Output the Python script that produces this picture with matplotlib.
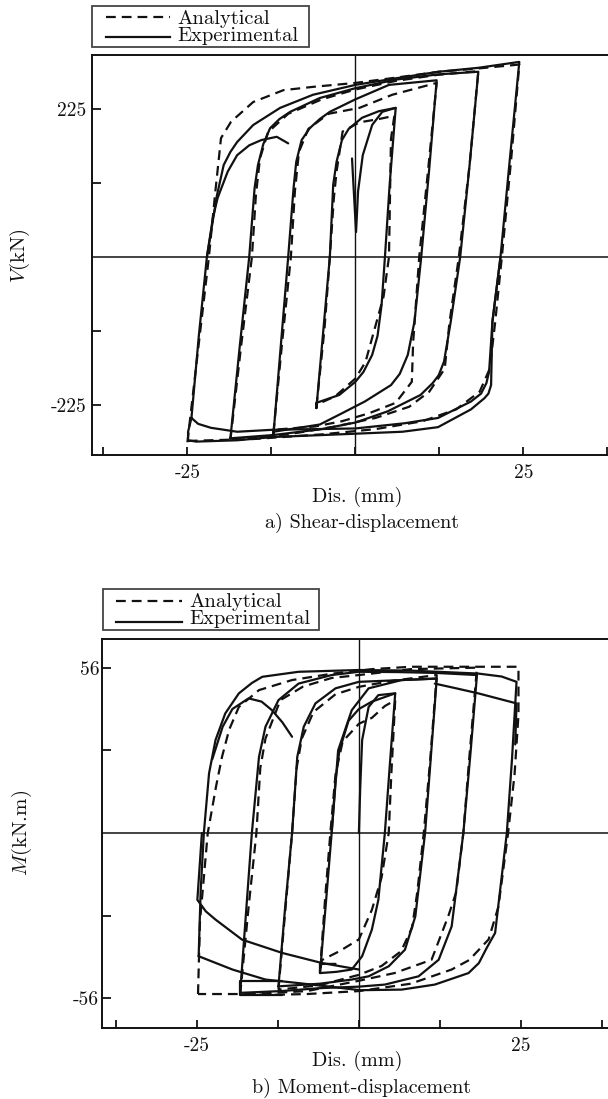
import matplotlib
matplotlib.use("Agg")
import matplotlib.pyplot as plt
from matplotlib.patches import Rectangle
from matplotlib.lines import Line2D

plt.rcParams['font.family'] = ['cmr10', 'DejaVu Serif']
plt.rcParams['mathtext.fontset'] = 'cm'
plt.rcParams['axes.unicode_minus'] = False

# ---------------- data: shear (kN) vs displacement (mm) ----------------
shear_exp_x0 = [-0.5, 0.1, 0.4, 1.1, 2.5, 4.0, 6.0]
shear_exp_v0 = [150, 38, 100, 155, 201, 221, 227]
shear_exp_x1 = [-5.8, -4.8, -3.8, -3.3, -2.8, -2.0, -1.0, 1.0, 3.5, 6.0, 5.1, 4.4, 3.9, 3.3, 2.5, 1.2, 0.0, -2.4, -5.8, -5.8]
shear_exp_v1 = [-230, -115, 0, 110, 145, 178, 195, 212, 222, 227, 110, 0, -73, -120, -149, -175, -190, -210, -222, -230]
shear_exp_x2 = [-12.2, -11.1, -10.0, -9.2, -8.8, -8.0, -6.8, -5.3, -3.8, 0.0, 5.0, 12.1, 11.0, 9.8, 8.8, 7.8, 6.6, 5.3, 1.4, -2.4, -5.3, -12.2, -12.2]
shear_exp_v2 = [-271, -135, 0, 105, 145, 178, 196, 210, 221, 240, 262, 269, 135, 0, -98, -149, -178, -195, -220, -240, -255, -266, -271]
shear_exp_x3 = [-18.6, -17.2, -15.8, -15.0, -14.5, -13.7, -12.7, -11.3, -9.7, -5.3, 0.0, 6.0, 12.3, 18.3,
                17.0, 15.6, 14.2, 13.2, 12.4, 11.5, 9.7, 4.8, 0.0, -5.0, -12.2, -18.6]
shear_exp_v3 = [-276, -135, 0, 105, 140, 172, 196, 210, 221, 242, 257, 270, 278, 282,
                140, 0, -98, -159, -180, -192, -210, -235, -252, -262, -271, -276]
shear_exp_x4 = [-24.4, -23.3, -22.1, -21.3, -20.6, -19.6, -18.6, -17.6, -15.2, -11.2, -6.3, 0.0, 6.0, 12.4, 18.3, 24.4,
                23.0, 21.6, 20.4, 19.9, 19.5, 18.7, 17.2, 12.3, 7.4, 0.0, -12.3, -17.6, -21.5, -23.4, -24.4]
shear_exp_v4 = [-245, -120, 0, 50, 94, 140, 160, 175, 201, 227, 247, 262, 272, 282, 288, 297,
                150, 0, -98, -175, -192, -208, -220, -245, -253, -261, -263, -266, -260, -254, -245]
shear_exp_x5 = [21.6, 20.4, 20.2, 19.8, 19.2, 17.2, 12.3, 7.0, -2.4, -12.2, -17.6, -23.7, -24.9, -24.9, -24.4]
shear_exp_v5 = [0, -98, -195, -208, -215, -232, -259, -266, -270, -274, -279, -281, -279, -266, -245]
shear_exp_x6 = [-22.1, -21.2, -20.5, -19.0, -17.6, -15.8, -14.0, -11.7, -10.0]
shear_exp_v6 = [0, 60, 90, 130, 155, 170, 178, 183, 173]

shear_ana_x1 = [-5.8, -4.6, -3.8, -3.2, -2.8, -1.9, 0.6, 3.5, 5.8, 5.3, 5.0, 4.2, 1.5, 0.0, -3.0, -5.8, -5.8]
shear_ana_v1 = [-228, -110, 0, 90, 130, 191, 205, 210, 215, 180, 0, -60, -160, -185, -212, -225, -228]
shear_ana_x2 = [-12.2, -10.9, -9.6, -9.0, -8.4, -7.0, -4.0, 0.6, 5.5, 12.1, 10.8, 9.5, 8.6, 8.4, 6.0, 2.0, -2.0, -6.0, -12.2, -12.2]
shear_ana_v2 = [-268, -130, 0, 100, 160, 195, 218, 227, 247, 265, 130, 0, -130, -190, -222, -238, -250, -258, -263, -268]
shear_ana_x3 = [-18.6, -17.0, -15.4, -14.8, -14.2, -13.0, -10.0, -5.0, 0.0, 6.0, 12.0, 18.3, 17.0, 15.4, 14.0, 13.3, 11.0, 8.0, 3.0, -3.0, -10.0, -18.6]
shear_ana_v3 = [-278, -135, 0, 95, 150, 190, 218, 240, 255, 268, 277, 283, 140, 0, -100, -170, -205, -228, -245, -258, -270, -278]
shear_ana_x4 = [-25.0, -23.4, -21.8, -20.9, -20.0, -18.5, -15.2, -10.7, -6.3, 0.0, 6.0, 12.4, 18.3, 24.4,
                23.2, 21.8, 20.8, 20.0, 18.5, 15.0, 10.0, 3.0, -5.0, -15.0, -25.0, -25.0]
shear_ana_v4 = [-282, -140, 0, 94, 181, 206, 236, 254, 259, 265, 273, 282, 287, 293,
                150, 0, -100, -170, -205, -232, -250, -262, -270, -277, -280, -282]

# ---------------- data: moment (kN.m) vs displacement (mm) ----------------
moment_exp_x0 = [0.0, 0.2, 0.5, 1.5, 3.0, 5.6]
moment_exp_v0 = [0, 15, 31.5, 42.7, 46.7, 47.3]
moment_exp_x1 = [-6.0, -5.1, -4.2, -3.6, -3.0, -1.6, 0.0, 2.0, 5.6, 4.8, 4.0, 3.0, 2.0, 0.5, -1.1, -3.5, -6.0, -6.0, -3.6]
moment_exp_v1 = [-47.4, -24, 0, 18, 28, 38, 42, 44.5, 47.3, 24, 0, -22.6, -32.7, -41.7, -46.2, -47.0, -47.4, -44.3, -44.3]
moment_exp_x1b = [-4.2, -3.2, -1.1, 1.5, 6.6, 12.0]
moment_exp_v1b = [0, 28, 41.6, 49, 51.8, 52.3]
moment_exp_x2 = [-12.4, -11.4, -10.3, -9.5, -8.5, -6.7, -3.6, 0.0, 6.6, 12.0, 11.1, 10.2, 8.7, 7.1, 4.6, 1.5, -1.1, -6.0, -12.4, -12.4]
moment_exp_v2 = [-51.9, -26, 0, 25.8, 36, 43.9, 49, 51.2, 51.8, 52.3, 26, 0, -28.2, -39.5, -45.1, -48.5, -49.6, -51.0, -51.9, -51.9]
moment_exp_x3 = [-18.3, -17.4, -16.5, -15.4, -14.4, -12.4, -9.3, -4.2, 0.0, 6.0, 12.0, 18.2, 17.2, 16.1, 14.3, 12.3, 9.2, 4.0, 0.0, -6.0, -12.0, -18.3]
moment_exp_v3 = [-54.1, -27, 0, 25.8, 36, 45, 50.6, 53.5, 54.6, 54.5, 54.2, 53.5, 27, 0, -31.6, -42.9, -48.5, -51.3, -52.0, -52.5, -53.5, -54.1]
moment_exp_x3b = [-11.9, -18.3, -18.3, -11.9]
moment_exp_v3b = [-54.7, -54.7, -50.2, -50.2]
moment_exp_x4 = [-24.7, -24.4, -23.9, -23.1, -22.1, -20.6, -18.5, -16.5, -14.9, -9.3, 0.0, 8.0, 18.4, 22.0, 24.3,
                 23.6, 22.8, 21.0, 19.7, 18.5, 16.9, 11.7, 6.6, 0.2, -9.3, -14.4, -19.5, -24.7]
moment_exp_v4 = [-41.7, -20, 0, 20.2, 31.5, 40.5, 47.3, 50.8, 52.9, 54.6, 55.2, 55.0, 54.0, 53.0, 51.2,
                 25, 0, -33.8, -38.9, -44.0, -47.4, -51.3, -53.0, -53.2, -50.8, -49.6, -46.2, -41.7]
moment_exp_x5 = [-24.2, -24.9, -23.6, -22.1, -18.0, -11.8, -5.7, 0.0]
moment_exp_v5 = [0, -22.6, -26.5, -29.3, -36.1, -40.6, -44.0, -46.2]
moment_exp_x6 = [-22.6, -21.0, -19.5, -17.0, -15.0, -13.4, -11.8, -10.3]
moment_exp_v6 = [25, 36, 42, 45.6, 44.5, 41.6, 37.5, 32.6]
moment_exp_x7 = [11.7, 15.0, 18.4, 21.0, 24.3, 24.1]
moment_exp_v7 = [50.6, 49.0, 47.3, 45.8, 43.9, 30]

moment_ana_x1 = [-6.0, -5.2, -4.4, -3.6, -2.5, 0.0, 2.0, 4.0, 5.6, 5.0, 4.6, 3.5, 2.0, 0.0, -3.0, -5.7, -6.0]
moment_ana_v1 = [-47, -22, 0, 20, 31, 37, 39, 43, 45, 20, 0, -15, -26, -36, -40, -43, -47]
moment_ana_x2 = [-12.4, -11.3, -10.3, -9.6, -8.8, -7.0, -3.6, 0.0, 5.0, 12.0, 11.0, 10.0, 9.0, 8.2, 6.5, 3.5, 0.0, -6.0, -12.4]
moment_ana_v2 = [-53, -25, 0, 22, 32, 41, 47, 49.5, 51.5, 53.5, 25, 0, -20, -32, -40, -45, -48, -51.5, -53]
moment_ana_x3 = [-18.3, -17.0, -15.8, -15.2, -14.4, -12.1, -8.6, -4.2, 0.0, 8.0, 18.2,
                 17.0, 16.1, 15.0, 13.8, 11.2, 5.5, 0.0, -8.0, -18.3]
moment_ana_v3 = [-54.7, -25, 0, 22, 32, 45, 49.6, 52.5, 53.5, 55.5, 56.0,
                 25, 0, -20, -28, -42.9, -47.4, -50, -53.5, -54.7]
moment_ana_x4 = [-24.8, -24.5, -23.3, -22.0, -21.1, -20.0, -18.5, -15.4, -10.3, -4.0, 2.0, 8.0, 16.0, 24.6,
                 24.6, 24.0, 23.0, 21.5, 20.0, 17.0, 14.3, 8.0, 0.0, -8.0, -14.0, -18.0, -24.8, -24.8]
moment_ana_v4 = [-54.5, -30.0, 0.0, 16, 25.8, 35, 42.7, 48.4, 51.8, 54, 55.5, 56.3, 56.3, 56.3,
                 40, 20, 0, -25, -36, -43, -46.2, -51, -53.5, -54.5, -54.8, -54.5, -54.5, -54.5]

# ---------------- axis / tick labels ----------------
x_ticks = [-37.5, -25, -12.5, 0, 12.5, 25, 37.5]
x_tick_labels = ['', '-25', '', '', '', '25', '']
shear_ticks = [-225, -112.5, 112.5, 225]
shear_tick_labels = ['-225', '', '', '225']
moment_ticks = [-56, -28, 28, 56]
moment_tick_labels = ['-56', '', '', '56']

W, H = 608, 1099
fig = plt.figure(figsize=(W / 100, H / 100), dpi=100)
INK = '#111111'
LW = 1.6
DASH = (0, (4.4, 2.7))


def fx(px):
    return px / W


def fy(py):
    return 1 - py / H


def style_axes(ax, yticks, ylabels, ypad):
    for s in ['top', 'left', 'bottom']:
        ax.spines[s].set_linewidth(1.4)
        ax.spines[s].set_color(INK)
    ax.spines['right'].set_visible(False)
    ax.set_xticks(x_ticks)
    ax.set_xticklabels(x_tick_labels)
    ax.set_yticks(yticks)
    ax.set_yticklabels(ylabels)
    ax.tick_params(axis='x', direction='in', length=6, width=1.3, pad=6.5,
                   labelsize=14, top=False, colors=INK)
    ax.tick_params(axis='y', direction='in', length=6.5, width=1.3, pad=ypad,
                   labelsize=14, right=False, colors=INK)
    ax.axhline(0, color=INK, lw=1.1, zorder=1)
    ax.axvline(0, color=INK, lw=1.0, zorder=1)


def draw(ax, xs, vs, dashed):
    for x, v in zip(xs, vs):
        if dashed:
            ax.plot(x, v, color=INK, lw=LW, ls=DASH, zorder=3,
                    solid_joinstyle='round')
        else:
            ax.plot(x, v, color=INK, lw=LW, ls='-', zorder=3,
                    solid_joinstyle='round', solid_capstyle='round')


def legend(box, dash_y, solid_y, line_x, text_x, base_a, base_e):
    x0, y0, x1, y1 = box
    fig.add_artist(Rectangle((fx(x0), fy(y1)), fx(x1) - fx(x0), fy(y0) - fy(y1),
                             transform=fig.transFigure, fill=False,
                             edgecolor='#444444', lw=1.3))
    fig.add_artist(Line2D([fx(line_x[0]), fx(line_x[1])], [fy(dash_y)] * 2,
                          transform=fig.transFigure, color=INK, lw=LW, ls=DASH))
    fig.add_artist(Line2D([fx(line_x[0]), fx(line_x[1])], [fy(solid_y)] * 2,
                          transform=fig.transFigure, color=INK, lw=LW))
    fig.text(fx(text_x), fy(base_a), 'Analytical', fontsize=14.8,
             va='baseline', ha='left', color=INK)
    fig.text(fx(text_x), fy(base_e), 'Experimental', fontsize=14.8,
             va='baseline', ha='left', color=INK)


# ---------------- top panel ----------------
ax1 = fig.add_axes([fx(92), fy(455), fx(608) - fx(92), fy(55) - fy(455)])
ax1.set_xlim(-39.2, 37.6)
ax1.set_ylim(-301.4, 307.5)
style_axes(ax1, shear_ticks, shear_tick_labels, 4.3)
draw(ax1, [shear_exp_x0, shear_exp_x1, shear_exp_x2, shear_exp_x3, shear_exp_x4, shear_exp_x5, shear_exp_x6],
     [shear_exp_v0, shear_exp_v1, shear_exp_v2, shear_exp_v3, shear_exp_v4, shear_exp_v5, shear_exp_v6], False)
draw(ax1, [shear_ana_x1, shear_ana_x2, shear_ana_x3, shear_ana_x4],
     [shear_ana_v1, shear_ana_v2, shear_ana_v3, shear_ana_v4], True)
legend((92, 6, 309, 47), 16.7, 36.7, (106, 170), 177.5, 24, 41)
fig.text(fx(20), fy(256), r'$V$(kN)', rotation=90, fontsize=15,
         ha='center', va='center', color=INK)
fig.text(fx(357), fy(497), 'Dis. (mm)', fontsize=14.5, ha='center', va='center', color=INK)
fig.text(fx(362), fy(523), 'a) Shear-displacement', fontsize=14.5, ha='center', va='center', color=INK)

# ---------------- bottom panel ----------------
ax2 = fig.add_axes([fx(102), fy(1028), fx(608) - fx(102), fy(639) - fy(1028)])
ax2.set_xlim(-39.6, 38.4)
ax2.set_ylim(-66.0, 65.7)
style_axes(ax2, moment_ticks, moment_tick_labels, 2.0)
draw(ax2, [moment_exp_x0, moment_exp_x1, moment_exp_x1b, moment_exp_x2, moment_exp_x3, moment_exp_x3b,
           moment_exp_x4, moment_exp_x5, moment_exp_x6, moment_exp_x7],
     [moment_exp_v0, moment_exp_v1, moment_exp_v1b, moment_exp_v2, moment_exp_v3, moment_exp_v3b,
      moment_exp_v4, moment_exp_v5, moment_exp_v6, moment_exp_v7], False)
draw(ax2, [moment_ana_x1, moment_ana_x2, moment_ana_x3, moment_ana_x4],
     [moment_ana_v1, moment_ana_v2, moment_ana_v3, moment_ana_v4], True)
legend((103, 589, 319, 630), 600.7, 621.7, (116, 182), 189, 606.7, 623.5)
fig.text(fx(22), fy(833), r'$M$(kN.m)', rotation=90, fontsize=15,
         ha='center', va='center', color=INK)
fig.text(fx(357), fy(1061), 'Dis. (mm)', fontsize=14.5, ha='center', va='center', color=INK)
fig.text(fx(362), fy(1088), 'b) Moment-displacement', fontsize=14.5, ha='center', va='center', color=INK)

fig.savefig('out.png', dpi=100, facecolor='white')
